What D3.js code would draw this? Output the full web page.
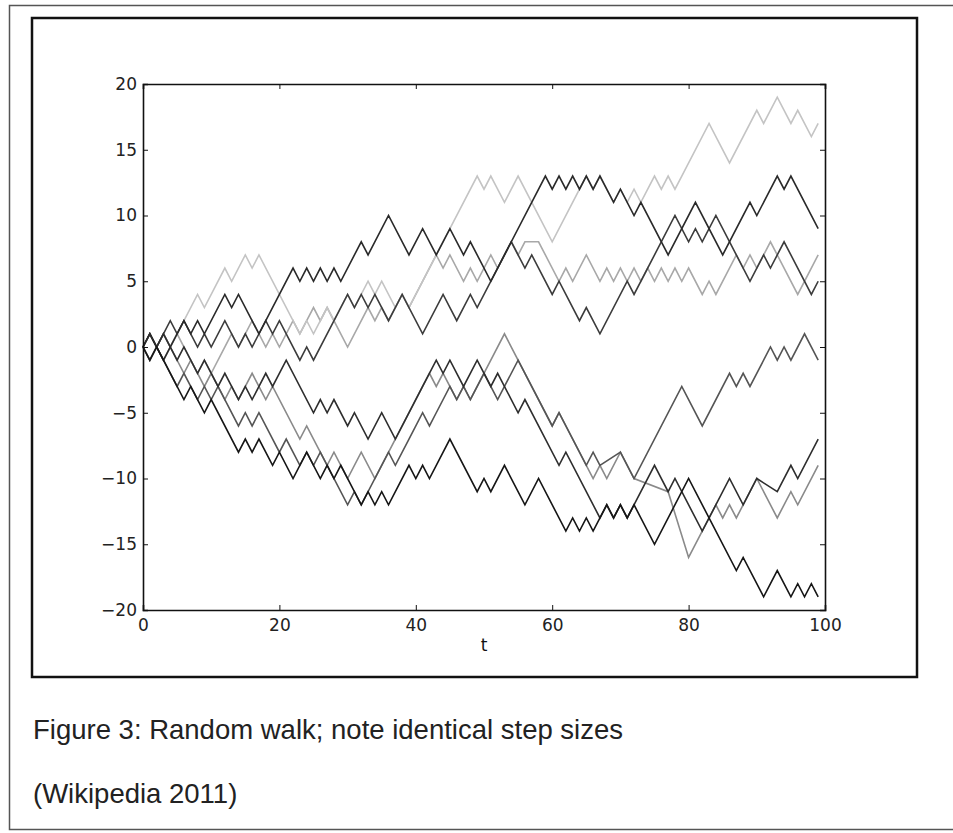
<!DOCTYPE html>
<html>
 <head>
  <meta charset="UTF-8">
  <title>Random walk</title>
  <style>
   body { margin: 0; background: #fff; }
   text { fill: #111; }
  </style>
 </head>
 <body>
<div id="viz-wrapper"></div>
 <script src="https://d3js.org/d3.v7.min.js" charset="utf-8"></script>
 <script type="text/javascript">
    // turning points [t, value] of each walk
    var walkA = [[0,0],[1,-1],[2,0],[3,-1],[8,4],[9,3],[12,6],[13,5],[15,7],[16,6],[17,7],[23,1],[24,2],[25,1],[27,3],[28,2],[30,4],[31,3],[33,5],[34,4],[35,5],[37,3],[38,4],[39,3],[49,13],[50,12],[51,13],[53,11],[55,13],[60,8],[65,13],[66,12],[67,13],[69,11],[70,12],[71,11],[72,12],[73,11],[75,13],[76,12],[77,13],[78,12],[79,13],[83,17],[86,14],[90,18],[91,17],[93,19],[95,17],[96,18],[98,16],[99,17]];
    var walkC = [[0,0],[1,1],[3,-1],[6,2],[7,1],[8,2],[9,1],[12,4],[13,3],[14,4],[17,1],[22,6],[23,5],[24,6],[25,5],[26,6],[27,5],[28,6],[29,5],[32,8],[33,7],[36,10],[39,7],[41,9],[43,7],[45,9],[47,7],[48,8],[51,5],[59,13],[60,12],[61,13],[62,12],[63,13],[64,12],[65,13],[66,12],[67,13],[69,11],[70,12],[72,10],[73,11],[77,7],[81,11],[85,7],[89,11],[90,10],[93,13],[94,12],[95,13],[99,9]];
    var walkD = [[0,0],[1,1],[2,0],[4,2],[5,1],[6,2],[8,0],[9,1],[10,0],[12,2],[14,0],[15,1],[16,0],[18,2],[19,1],[20,2],[23,-1],[24,0],[25,-1],[30,4],[31,3],[32,4],[33,3],[34,4],[36,2],[38,4],[41,1],[44,4],[46,2],[48,4],[49,3],[54,8],[56,6],[57,7],[60,4],[61,5],[64,2],[65,3],[67,1],[71,5],[72,4],[78,10],[80,8],[81,9],[82,8],[84,10],[89,5],[91,7],[92,6],[94,8],[98,4],[99,5]];
    var walkE = [[0,0],[1,-1],[3,1],[4,0],[5,1],[8,-2],[9,-1],[10,-2],[13,1],[14,0],[16,2],[18,0],[19,1],[20,0],[22,2],[23,1],[25,3],[26,2],[27,3],[30,0],[33,3],[34,2],[35,3],[36,2],[38,4],[39,3],[43,7],[44,6],[45,7],[47,5],[48,6],[49,5],[51,7],[52,6],[54,8],[55,7],[56,8],[58,8],[61,5],[62,6],[63,5],[65,7],[67,5],[68,6],[69,5],[70,6],[71,5],[72,6],[73,5],[74,6],[75,5],[76,6],[77,5],[78,6],[79,5],[80,6],[82,4],[83,5],[84,4],[87,7],[88,6],[89,7],[90,6],[92,8],[96,4],[99,7]];
    var walkF = [[0,0],[1,-1],[2,0],[6,-4],[7,-3],[8,-4],[9,-5],[10,-4],[14,-8],[15,-7],[16,-8],[17,-7],[19,-9],[20,-8],[22,-10],[24,-8],[26,-10],[27,-9],[28,-10],[29,-9],[32,-12],[33,-11],[34,-12],[35,-11],[36,-12],[39,-9],[40,-10],[41,-9],[42,-10],[45,-7],[49,-11],[50,-10],[51,-11],[53,-9],[56,-12],[58,-10],[62,-14],[63,-13],[64,-14],[65,-13],[66,-14],[68,-12],[69,-13],[70,-12],[71,-13],[72,-12],[75,-15],[80,-10],[87,-17],[88,-16],[91,-19],[93,-17],[95,-19],[96,-18],[97,-19],[98,-18],[99,-19]];
    var walkG = [[0,0],[1,-1],[2,0],[5,-3],[6,-2],[8,-4],[9,-3],[10,-4],[11,-3],[14,-6],[15,-5],[16,-6],[17,-5],[20,-8],[21,-7],[23,-9],[24,-8],[25,-9],[26,-8],[30,-12],[31,-11],[32,-12],[36,-8],[37,-9],[39,-7],[41,-5],[42,-6],[43,-5],[45,-3],[46,-4],[47,-3],[48,-4],[50,-2],[52,-4],[53,-3],[55,-1],[60,-6],[61,-5],[65,-9],[66,-8],[67,-9],[70,-8],[72,-10],[79,-3],[82,-6],[86,-2],[87,-3],[88,-2],[89,-3],[92,0],[93,-1],[94,0],[95,-1],[97,1],[99,-1]];
    var walkI = [[0,0],[1,1],[2,0],[3,1],[5,-1],[6,0],[8,-2],[9,-1],[11,-3],[12,-2],[14,-4],[15,-3],[16,-4],[18,-2],[19,-3],[21,-1],[25,-5],[26,-4],[27,-5],[28,-4],[30,-6],[31,-5],[33,-7],[35,-5],[37,-7],[41,-3],[43,-1],[44,-2],[45,-1],[47,-3],[49,-1],[51,-3],[52,-2],[55,-5],[56,-4],[61,-9],[62,-8],[67,-13],[68,-12],[69,-13],[70,-12],[71,-13],[75,-9],[77,-11],[78,-10],[82,-14],[86,-10],[88,-12],[90,-10],[93,-11],[95,-9],[96,-10],[99,-7]];
    var walkJ = [[0,0],[1,1],[2,0],[3,1],[4,0],[6,-2],[7,-1],[9,-3],[10,-2],[12,-4],[13,-3],[14,-4],[16,-2],[18,-4],[19,-3],[23,-7],[24,-6],[25,-7],[27,-9],[28,-8],[30,-10],[32,-8],[34,-10],[35,-9],[37,-7],[41,-3],[42,-2],[43,-3],[44,-2],[46,-4],[47,-3],[48,-4],[53,1],[60,-6],[61,-5],[66,-10],[67,-9],[68,-10],[70,-8],[72,-10],[77,-11],[80,-16],[84,-12],[85,-13],[86,-12],[87,-13],[90,-10],[93,-13],[95,-11],[96,-12],[99,-9]];

    var walks = [walkJ, walkE, walkA, walkG, walkD, walkI, walkC, walkF];
    var walkColors = ["#8a8a8a", "#a8a8a8", "#c4c4c4", "#555", "#3c3c3c", "#2e2e2e", "#2a2a2a", "#161616"];

    var xTicks = [0, 20, 40, 60, 80, 100];
    var yTicks = [-20, -15, -10, -5, 0, 5, 10, 15, 20];
    var xLabel = "t";
    var caption = "Figure 3: Random walk; note identical step sizes";
    var source = "(Wikipedia 2011)";

    var width = 953,
        height = 833;

    var svg = d3.select("#viz-wrapper")
                .append("svg")
                .attr("width", width)
                .attr("height", height);

    // page frame
    svg.append("rect")
       .attr("x", 9.5).attr("y", 5.5)
       .attr("width", 960).attr("height", 824)
       .style("fill", "none")
       .style("stroke", "#555")
       .style("stroke-width", 1.5);

    // figure box
    svg.append("rect")
       .attr("x", 32).attr("y", 18)
       .attr("width", 885).attr("height", 659)
       .style("fill", "#fff")
       .style("stroke", "#111")
       .style("stroke-width", 2.5);

    var x = d3.scaleLinear().domain([0, 100]).range([143, 825]);
    var y = d3.scaleLinear().domain([-20, 20]).range([610, 84]);

    var fmt = function(d) { return d < 0 ? "\u2212" + (-d) : String(d); };

    var line = d3.line()
                 .x(function(d) { return x(d[0]); })
                 .y(function(d) { return y(d[1]); });

    svg.selectAll("path.walk")
       .data(walks)
       .enter()
       .append("path")
       .attr("class", "walk")
       .attr("d", line)
       .style("fill", "none")
       .style("stroke", function(d, i) { return walkColors[i]; })
       .style("stroke-width", 1.6)
       .style("stroke-linejoin", "miter");

    // axes, matplotlib style ticks pointing inward
    var axisFont = "DejaVu Sans, sans-serif";
    svg.append("g")
       .attr("transform", "translate(0," + y(-20) + ")")
       .call(d3.axisBottom(x).tickValues(xTicks).tickFormat(fmt).tickSize(-5).tickPadding(9));
    svg.append("g")
       .attr("transform", "translate(" + x(0) + ",0)")
       .call(d3.axisLeft(y).tickValues(yTicks).tickFormat(fmt).tickSize(-5).tickPadding(6));
    svg.append("g")
       .attr("transform", "translate(0," + y(20) + ")")
       .call(d3.axisTop(x).tickValues(xTicks).tickFormat("").tickSize(-5));
    svg.append("g")
       .attr("transform", "translate(" + x(100) + ",0)")
       .call(d3.axisRight(y).tickValues(yTicks).tickFormat("").tickSize(-5));

    svg.selectAll(".domain").style("stroke", "#111").style("stroke-width", 1.6);
    svg.selectAll(".tick line").style("stroke", "#111");
    svg.selectAll(".tick text")
       .style("font-family", axisFont)
       .style("font-size", "17px")
       .style("fill", "#222");

    svg.append("text")
       .attr("x", (x(0) + x(100)) / 2)
       .attr("y", 651)
       .attr("text-anchor", "middle")
       .style("font-family", axisFont)
       .style("font-size", "17px")
       .text(xLabel);

    svg.append("text")
       .attr("x", 33).attr("y", 739)
       .style("font-family", "Liberation Sans, Arial, sans-serif")
       .style("font-size", "27.5px")
       .style("fill", "#222")
       .text(caption);

    svg.append("text")
       .attr("x", 33).attr("y", 803)
       .style("font-family", "Liberation Sans, Arial, sans-serif")
       .style("font-size", "27.5px")
       .style("fill", "#222")
       .text(source);
 </script>
 </body>
</html>
